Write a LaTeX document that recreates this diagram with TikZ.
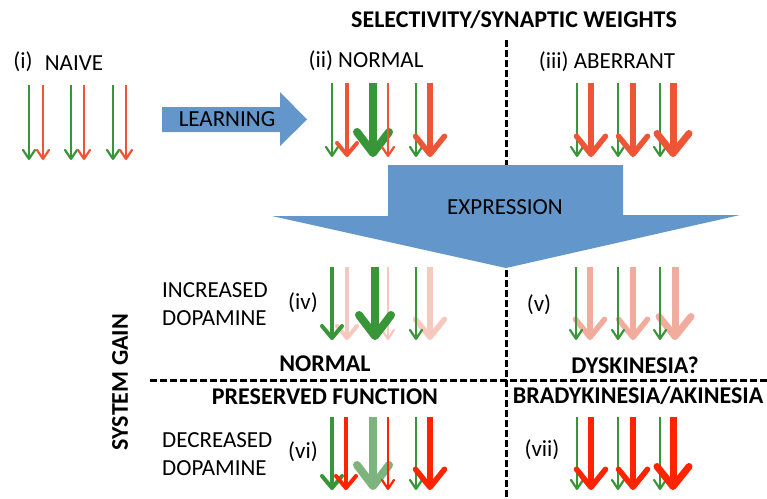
\documentclass[tikz,border=0pt]{standalone}
\usepackage{fontspec}
\setmainfont{Carlito}
\usetikzlibrary{arrows.meta}
\definecolor{grn}{RGB}{56,150,56}
\definecolor{org}{RGB}{238,85,55}
\definecolor{rd}{RGB}{255,35,0}
\definecolor{pk}{RGB}{242,172,158}
\definecolor{pkl}{RGB}{246,200,190}
\definecolor{lgrn}{RGB}{125,180,125}
\definecolor{blu}{RGB}{99,150,203}
\tikzset{
  lbl/.style={font=\fontsize{23}{28}\selectfont, inner sep=0pt},
  blbl/.style={font=\fontsize{24}{28}\selectfont\bfseries, inner sep=0pt},
  sepline/.style={line width=3pt, dash pattern=on 7pt off 3pt},
  ta/.style={line width=2.2pt, -{Straight Barb[length=9pt,width=12pt,round]}},
  ma/.style={line width=4pt, -{Straight Barb[length=12pt,width=20pt,round]}},
  ka/.style={line width=5.5pt, -{Straight Barb[length=18pt,width=29pt,round]}},
  xa/.style={line width=7pt, -{Straight Barb[length=20pt,width=32pt,round]}},
  fa/.style={line width=8pt, -{Straight Barb[length=21pt,width=32pt,round]}},
}
\begin{document}
\begin{tikzpicture}[x=1pt,y=-1pt]
\useasboundingbox (0,0) rectangle (767,498);
% separators
\draw[sepline] (506,40) -- (506,498);
\draw[sepline] (150,380) -- (767,380);
% blue arrows
\fill[blu] (162,107) -- (280,107) -- (280,92) -- (307,119.5) -- (280,146) -- (280,132) -- (162,132) -- cycle;
\fill[blu] (388,165) -- (623,165) -- (623,215) -- (740,215) -- (506,268) -- (272,216) -- (388,216) -- cycle;
% texts
\node[blbl] (title) at (514,20) {SELECTIVITY/SYNAPTIC WEIGHTS};
\node[lbl] (i) at (23,62) {(i)};
\node[lbl] (naive) at (74,63) {NAIVE};
\node[lbl] (ii) at (366,61) {(ii) NORMAL};
\node[lbl] (iii) at (607,62) {(iii) ABERRANT};
\node[lbl] (learn) at (227,119) {LEARNING};
\node[lbl] (expr) at (505,207) {EXPRESSION};
\node[lbl, anchor=west, align=left] (inc) at (162,304) {INCREASED\\DOPAMINE};
\node[lbl] (iv) at (303,303) {(iv)};
\node[blbl] (norm) at (325,364) {NORMAL};
\node[lbl] (v) at (539,305) {(v)};
\node[blbl] (dys) at (635,365) {DYSKINESIA?};
\node[blbl] (pres) at (325,397) {PRESERVED FUNCTION};
\node[blbl] (brady) at (638,396) {BRADYKINESIA/AKINESIA};
\node[lbl, anchor=west, align=left] (dec) at (162,454) {DECREASED\\DOPAMINE};
\node[lbl] (vi) at (303,452) {(vi)};
\node[lbl] (vii) at (542,450) {(vii)};
\node[blbl, rotate=90] (gain) at (120,382) {SYSTEM GAIN};
% (i)
\foreach \x in {29,71,113} \draw[ta, grn] (\x,85) -- (\x,160);
\foreach \x in {43,84,126} \draw[ta, org] (\x,85) -- (\x,160);
% (ii)
\draw[ta, grn] (332,83) -- (332,157);
\draw[fa, grn] (373,83) -- (373,157);
\draw[ta, grn] (416,83) -- (416,157);
\draw[ma, org] (347,83) -- (347,157);
\draw[ta, org] (388,83) -- (388,157);
\draw[ka, org] (430,83) -- (430,157);
% (iii)
\foreach \x in {577,618,660} \draw[ta, grn] (\x,83) -- (\x,157);
\draw[ka, org] (591,83) -- (591,157);
\draw[ka, org] (633,83) -- (633,157);
\draw[xa, org] (673,83) -- (673,157);
% (iv)
\draw[ma, pkl] (347,267) -- (347,340);
\draw[ta, pkl] (388,267) -- (388,340);
\draw[ka, pkl] (430,267) -- (430,340);
\draw[ma, grn] (332,267) -- (332,340);
\draw[fa, grn] (375,267) -- (375,340);
\draw[ta, grn] (416,267) -- (416,340);
% (v)
\draw[ka, pk] (590,267) -- (590,340);
\draw[ka, pk] (633,267) -- (633,340);
\draw[xa, pk] (675,267) -- (675,340);
\foreach \x in {576,618,660} \draw[ta, grn] (\x,267) -- (\x,340);
% (vi)
\draw[ma, grn] (332,417) -- (332,490);
\draw[fa, lgrn] (373,417) -- (373,490);
\draw[ta, grn] (416,417) -- (416,490);
\draw[ma, rd] (346,417) -- (346,490);
\draw[ta, rd] (388,417) -- (388,490);
\draw[ka, rd] (430,417) -- (430,490);
% (vii)
\foreach \x in {577,618,660} \draw[ta, grn] (\x,417) -- (\x,490);
\draw[ka, rd] (591,417) -- (591,490);
\draw[ka, rd] (633,417) -- (633,490);
\draw[xa, rd] (673,417) -- (673,490);
\end{tikzpicture}
\end{document}
